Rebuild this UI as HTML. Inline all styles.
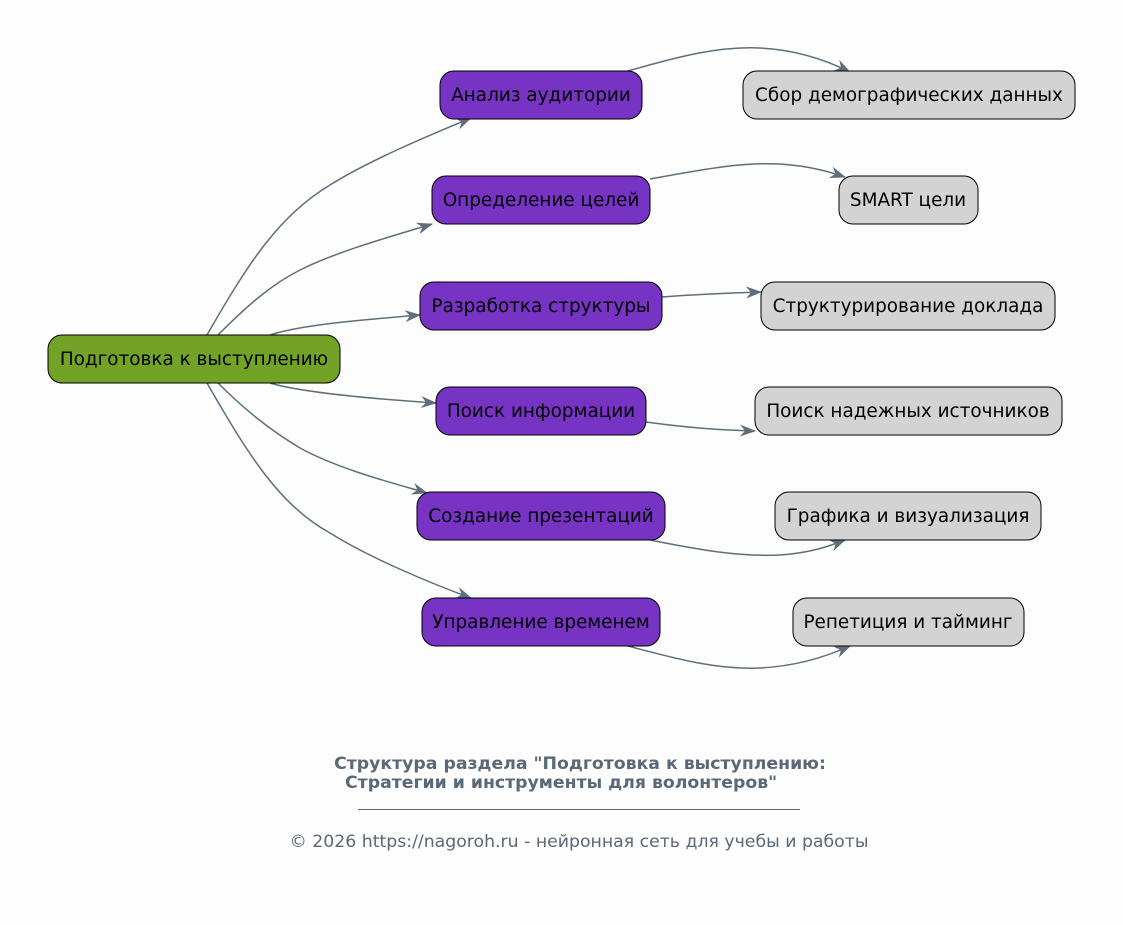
<!DOCTYPE html>
<html><head><meta charset="utf-8"><style>
html,body{margin:0;padding:0;background:#fdfdfd;}
svg{display:block;font-family:"DejaVu Sans","Liberation Sans",sans-serif;}
</style></head><body>
<svg width="1123" height="925" viewBox="0 0 1123 925" xmlns="http://www.w3.org/2000/svg">
<defs>
<marker id="a" viewBox="0 0 16 12" refX="15" refY="6" markerWidth="16" markerHeight="12" markerUnits="userSpaceOnUse" orient="auto">
<path d="M0,0 L16,6 L0,12 L5,6 z" fill="#5f6e7b"/>
</marker>
</defs>
<rect width="1123" height="925" fill="#fdfdfd"/>
<g fill="none" stroke="#5f6e7b" stroke-width="1.5" marker-end="url(#a)">
<path d="M207,335 C250,260 280,215 330,185 C370,160 430,135 471,118"/>
<path d="M218,335 C245,308 270,285 300,270 C340,250 400,234 432,224"/>
<path d="M270,335 C300,325 360,320 420,315"/>
<path d="M270,383 C300,392 360,398 436,403"/>
<path d="M218,383 C245,410 270,430 300,448 C340,470 400,485 427,493"/>
<path d="M207,383 C250,458 280,505 330,533 C370,558 430,583 471,598"/>
<path d="M628,71 C680,56 720,46 760,48 C800,50 830,62 850,72"/>
<path d="M650,179 C700,170 740,162 780,164 C810,166 830,172 845,177"/>
<path d="M662,297 C700,294 730,293 761,292"/>
<path d="M646,422 C690,428 720,430 755,431"/>
<path d="M650,540 C700,550 740,557 780,555 C810,553 830,546 845,540"/>
<path d="M628,646 C680,660 720,670 760,668 C800,666 830,655 850,646"/>
</g>
<g stroke="#000" stroke-width="1">
<rect x="48" y="335" width="292" height="48" rx="14" fill="#72a226"/>
<g fill="#7733c4">
<rect x="440" y="71" width="202" height="48" rx="14"/>
<rect x="432" y="176" width="218" height="48" rx="14"/>
<rect x="420" y="282" width="242" height="48" rx="14"/>
<rect x="436" y="387" width="210" height="48" rx="14"/>
<rect x="417" y="492" width="248" height="48" rx="14"/>
<rect x="422" y="598" width="238" height="48" rx="14"/>
</g>
<g fill="#d3d3d3">
<rect x="743" y="71" width="332" height="48" rx="14"/>
<rect x="839" y="176" width="139" height="48" rx="14"/>
<rect x="761" y="282" width="294" height="48" rx="14"/>
<rect x="755" y="387" width="307" height="48" rx="14"/>
<rect x="775" y="492" width="266" height="48" rx="14"/>
<rect x="793" y="598" width="231" height="48" rx="14"/>
</g>
</g>
<g font-size="18.4" fill="#000" text-anchor="middle">
<text x="194" y="365">Подготовка к выступлению</text>
<text x="541" y="101">Анализ аудитории</text>
<text x="541" y="206">Определение целей</text>
<text x="541" y="312">Разработка структуры</text>
<text x="541" y="417">Поиск информации</text>
<text x="541" y="522">Создание презентаций</text>
<text x="541" y="628">Управление временем</text>
<text x="909" y="101">Сбор демографических данных</text>
<text x="908" y="206">SMART цели</text>
<text x="908" y="312">Структурирование доклада</text>
<text x="908" y="417">Поиск надежных источников</text>
<text x="908" y="522">Графика и визуализация</text>
<text x="908" y="628">Репетиция и тайминг</text>
</g>
<g fill="#5a6878" font-size="17.3">
<text x="580" y="769" font-weight="bold" text-anchor="middle">Структура раздела "Подготовка к выступлению:</text>
<text x="345" y="788" font-weight="bold">Стратегии и инструменты для волонтеров"</text>
<line x1="358" y1="809.5" x2="800" y2="809.5" stroke="#5a6878" stroke-width="1"/>
<text x="579" y="847" text-anchor="middle">© 2026 https://nagoroh.ru - нейронная сеть для учебы и работы</text>
</g>
</svg>
</body></html>
